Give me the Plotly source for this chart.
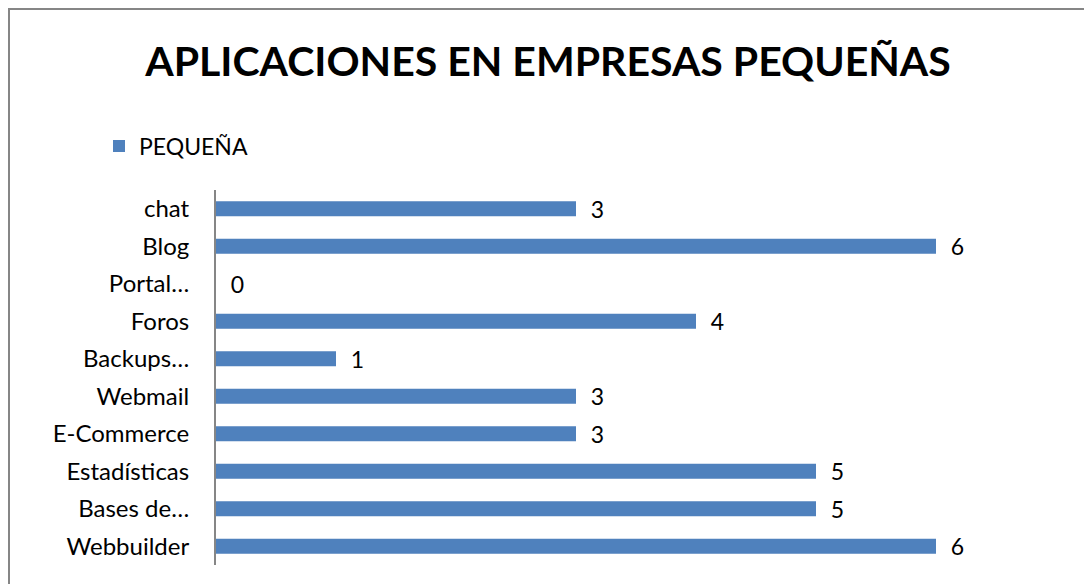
import plotly.graph_objects as go

categories = ["Webbuilder", "Bases de…", "Estadísticas", "E-Commerce", "Webmail",
              "Backups…", "Foros", "Portal…", "Blog", "chat"]
values = [6, 5, 5, 3, 3, 1, 4, 0, 6, 3]
series_name = "PEQUEÑA"
title_text = "APLICACIONES EN EMPRESAS PEQUEÑAS"

FONT = "Lato"
FS = 23
W, H = 1084, 584
ML, MR, MT, MB = 216, 28, 190, 19
pw = W - ML - MR
ph = H - MT - MB

fig = go.Figure()
fig.add_trace(go.Bar(
    y=categories, x=values, orientation="h", name=series_name,
    marker=dict(color="#4F81BD", line=dict(width=0)),
    text=values, texttemplate="\u00a0\u00a0%{x}", textposition="outside",
    constraintext="none",
    textfont=dict(family=FONT, size=FS, color="#000000"),
    cliponaxis=False, showlegend=True,
))

def px_x(p):
    return (p - ML) / pw

def px_y(p):
    return 1 - (p - MT) / ph

fig.update_layout(
    width=W, height=H,
    margin=dict(l=ML, r=MR, t=MT, b=MB),
    paper_bgcolor="white", plot_bgcolor="white",
    bargap=0.6,
    title=dict(text="<b>" + title_text + "</b>", x=548 / W, xanchor="center",
               y=1 - 62 / H, yanchor="middle", yref="container",
               font=dict(family=FONT, size=41, color="#000000")),
    legend=dict(x=px_x(99), xanchor="left", y=px_y(146), yanchor="middle",
                font=dict(family=FONT, size=FS, color="#000000"),
                bgcolor="rgba(0,0,0,0)", itemwidth=30),
    xaxis=dict(range=[0, 7], showgrid=False, zeroline=False, showticklabels=False,
               showline=False, ticks=""),
    yaxis=dict(categoryorder="array", categoryarray=categories, range=[-0.5, 9.5],
               showgrid=False, zeroline=False, showline=True, linecolor="#868686",
               linewidth=2, ticks="", ticklabelstandoff=20,
               tickfont=dict(family=FONT, size=24, color="#000000")),
    shapes=[dict(type="rect", xref="paper", yref="paper",
                 x0=px_x(9), y0=px_y(700), x1=px_x(1200), y1=px_y(9),
                 line=dict(color="#868686", width=2), fillcolor="rgba(0,0,0,0)")],
)

fig.write_html("out.html")
